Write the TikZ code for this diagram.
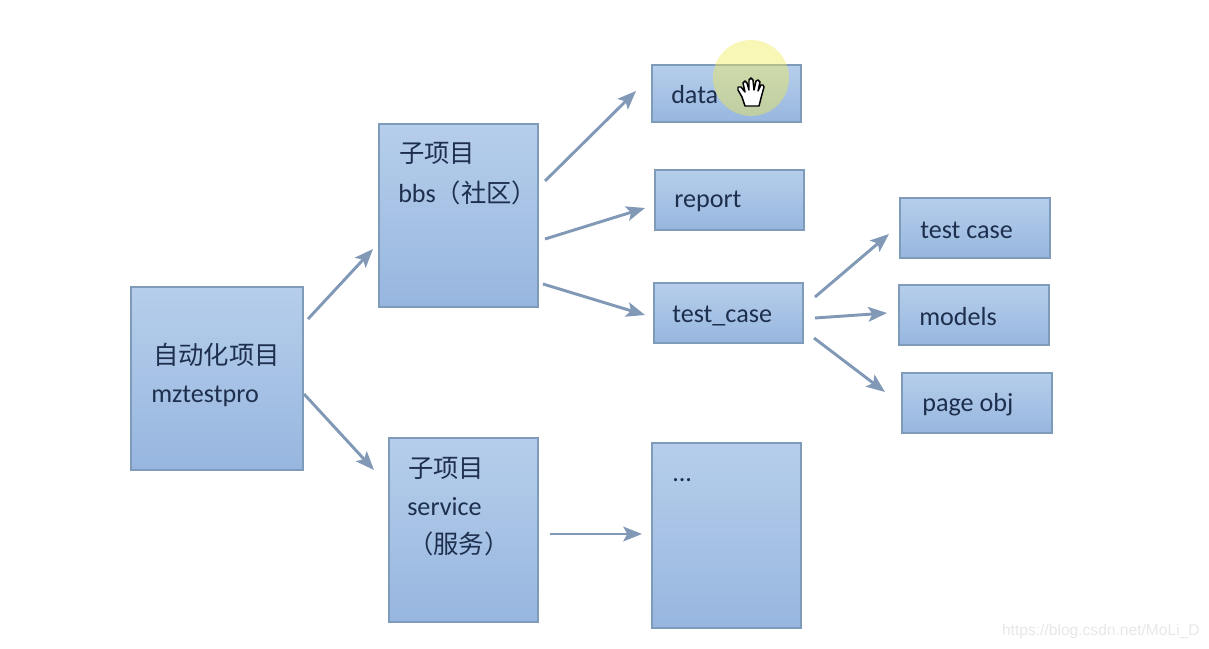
\documentclass[tikz,border=0pt]{standalone}
\usepackage{fontspec}
\setmainfont{Carlito}
\newfontfamily\cjk[Scale=0.97]{Noto Sans CJK SC}
\newfontfamily\wmfont{Liberation Sans}
\usetikzlibrary{shadings,arrows.meta,calc}
\definecolor{boxtop}{HTML}{B6CEEB}
\definecolor{boxbot}{HTML}{97B6DF}
\definecolor{boxline}{HTML}{7F9BBA}
\definecolor{arrowc}{HTML}{8199B6}
\definecolor{inkc}{HTML}{1E2F4E}
\definecolor{glow}{HTML}{F2EC50}
\tikzset{
  x=0.75pt,y=-0.75pt,
  box/.style={draw=boxline,line width=2.2pt,top color=boxtop,bottom color=boxbot,rectangle,inner sep=0pt,outer sep=0pt,anchor=north west},
  conn/.style={draw=arrowc,line width=2.2pt,-{Stealth[length=14pt,width=11pt,inset=3pt]}},
  lbl/.style={text=inkc,anchor=west,inner sep=0pt,font=\fontsize{19.6pt}{23pt}\selectfont},
}
\newcommand{\bx}[5]{\node[box,minimum width=#4*0.75pt,minimum height=#5*0.75pt] (#1) at (#2,#3) {};}
\begin{document}
\begin{tikzpicture}
\useasboundingbox (0,0) rectangle (1209,649);
\fill[white] (0,0) rectangle (1209,649);
\bx{root}{131}{287}{172}{183}
\bx{bbs}{379}{124}{159}{183}
\bx{service}{389}{438}{149}{184}
\bx{data}{652}{65}{149}{57}
\bx{report}{655}{170}{149}{60}
\bx{testc}{654}{283}{149}{60}
\bx{dots}{652}{443}{149}{185}
\bx{tcase}{900}{198}{150}{60}
\bx{models}{899}{285}{150}{60}
\bx{pageobj}{902}{373}{150}{60}
% labels
\node[lbl] (t1) at (153,355) {\cjk 自动化项目};
\node[lbl] (t2) at (151,396) {mztestpro};
\node[lbl] (t3) at (399,153) {\cjk 子项目};
\node[lbl] (t4) at (398,193) {bbs{\cjk （社区）}};
\node[lbl] (t5) at (408,468) {\cjk 子项目};
\node[lbl] (t6) at (407,507) {service};
\node[lbl] (t7) at (408,544) {\cjk （服务）};
\node[lbl] (t8) at (671,95) {data};
\node[lbl] (t9) at (674,201) {report};
\node[lbl] (t10) at (672,316) {test\_case};
\node[lbl] (t11) at (672,480) {...};
\node[lbl] (t12) at (920,230) {test case};
\node[lbl] (t13) at (919,317) {models};
\node[lbl] (t14) at (922,405) {page obj};
% connectors
\draw[conn] ($(root.north east)+(5,32)$) -- ($(bbs.south west)+(-6,-58)$);
\draw[conn] ($(root.north east)+(1,107)$) -- ($(service.north west)+(-15,32)$);
\draw[conn] ($(bbs.north east)+(7,57)$) -- ($(data.north west)+(-16,26)$);
\draw[conn] ($(bbs.north east)+(7,115)$) -- ($(report.north west)+(-10,38)$);
\draw[conn] ($(bbs.south east)+(5,-23)$) -- ($(testc.north west)+(-9,32)$);
\draw[conn] ($(service.north east)+(12,96)$) -- ($(dots.north west)+(-10,91)$);
\draw[conn] ($(testc.north east)+(12,14)$) -- ($(tcase.north west)+(-11,36)$);
\draw[conn] ($(testc.north east)+(12,35)$) -- ($(models.north west)+(-12,28)$);
\draw[conn] ($(testc.south east)+(11,-5)$) -- ($(pageobj.north west)+(-17,19)$);
% cursor highlight
\fill[glow,opacity=0.42] (751,78) circle[radius=38];
% hand cursor
\draw[black,fill=white,line width=1.1pt,line join=round]
  (745,106) -- (742,97) -- (738,90) -- (738,87) -- (741,87) -- (745,92)
  -- (743,83) -- (745,81) -- (747,83) -- (749,90)
  -- (749,80) -- (751,78) -- (753,80) -- (754,90)
  -- (756,81) -- (758,80) -- (760,82) -- (758,91)
  -- (761,85) -- (763,85) -- (764,87) -- (761,98) -- (759,106) -- cycle;
% watermark
\node[text=black!9,anchor=east,inner sep=0pt,font=\wmfont\fontsize{11.7pt}{14pt}\selectfont] (wm) at (1200,631) {https://blog.csdn.net/MoLi\_D};
\end{tikzpicture}
\end{document}
